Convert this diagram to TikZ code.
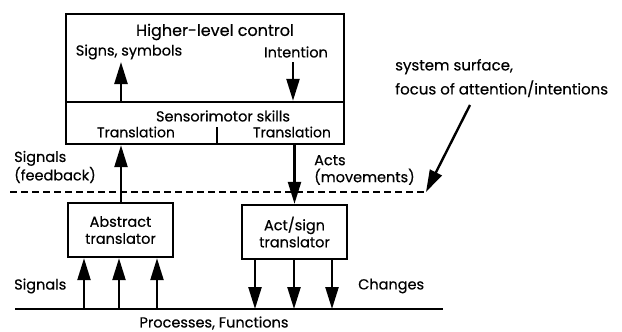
\documentclass[tikz,border=0pt]{standalone}
\usepackage{fontspec}
\setmainfont{Poppins}[FakeBold=0.4]
\usetikzlibrary{arrows.meta}
\begin{document}
\begin{tikzpicture}[x=1pt,y=-1pt,
  every node/.style={font=\fontsize{14.5}{17}\selectfont, inner sep=0pt},
  box/.style={draw, line width=2.4pt, minimum width=#1, minimum height=54, align=center},
  lbl/.style={align=left, anchor=west},
  tip/.style={-{Triangle[length=22pt,width=13pt]}},
  arr/.style={line width=2.4pt, tip},
  rule/.style={line width=2.4pt},
  surface/.style={line width=2pt, dash pattern=on 7pt off 4pt}]
\useasboundingbox (0,0) rectangle (622,332);

% upper system: higher-level control above sensorimotor skills
\node[draw, line width=2.4pt, minimum width=278, minimum height=88] (hl) at (205,58) {};
\node[draw, line width=2.4pt, minimum width=278, minimum height=42] (sm) at (205,123) {};
\node[font=\fontsize{16}{19}\selectfont] (hltext) at (215,32) {Higher-level control};
\node (signs) at (129,52) {Signs, symbols};
\node (intent) at (296,52) {Intention};
\node (smtext) at (223,116) {Sensorimotor skills};
\node[font=\fontsize{14}{16}\selectfont] (trl) at (136,132) {Translation};
\node[font=\fontsize{14}{16}\selectfont] (trr) at (292,132) {Translation};
\coordinate (tick) at (217,127);
\draw[rule] (tick) -- (tick |- sm.south);

\coordinate (up1) at (121,62);
\coordinate (dn1) at (293,62);
\draw[arr] (up1 |- sm.north) -- (up1);
\draw[arr] (dn1) -- (dn1 |- sm.north);

% translators
\node[box=105] (abs) at (120.5,230) {Abstract\\translator};
\node[box=105] (act) at (294.5,232) {Act/sign\\translator};

\draw[arr] (abs.north -| up1) -- (up1 |- sm.south);
\draw[arr] (sm.south -| act.north) -- (act.north);

\node[lbl] (sigfb) at (14,167) {Signals\\(feedback)};
\node[lbl] (acts) at (314,170) {Acts\\(movements)};

% system surface
\coordinate (dl) at (10,192);
\coordinate (dr) at (426,192);
\draw[surface] (dl) -- (dr);
\node[lbl, font=\fontsize{15}{18}\selectfont] (surf) at (395,78) {system surface,\\[6pt]focus of attention/intentions};
\coordinate (pt) at (470,105);
\draw[arr] (pt) -- (dr);

% processes line
\coordinate (bl) at (15,309);
\coordinate (br) at (443,309);
\draw[rule] (bl) -- (br);
\foreach \x [count=\i] in {84,119,157} {
  \coordinate (s\i) at (\x,309);
  \draw[arr] (s\i) -- (s\i |- abs.south);
}
\foreach \x [count=\i] in {255,294,332} {
  \coordinate (c\i) at (\x,309);
  \draw[arr] (c\i |- act.south) -- (c\i);
}
\node[lbl] (sig) at (14,286) {Signals};
\node[lbl] (chg) at (358,286) {Changes};
\node (proc) at (214,323) {Processes, Functions};
\end{tikzpicture}
\end{document}
